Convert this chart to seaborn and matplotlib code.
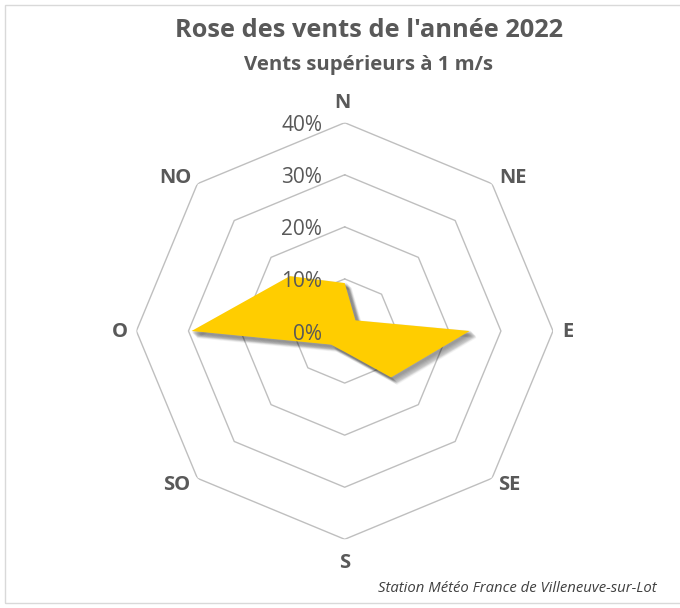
import numpy as np
import matplotlib
matplotlib.use("Agg")
import matplotlib.pyplot as plt
import matplotlib.transforms as mtransforms
from matplotlib.patches import Rectangle
import seaborn as sns
import pandas as pd

# ---- data ----
directions = ["N", "NE", "E", "SE", "S", "SO", "O", "NO"]
frequencies = [9.2, 2.9, 24.0, 12.6, 4.0, 3.7, 29.4, 14.9]   # % of winds > 1 m/s
ring_values = [10, 20, 30, 40]
tick_values = [0, 10, 20, 30, 40]
tick_labels = ["0%", "10%", "20%", "30%", "40%"]
title = "Rose des vents de l'année 2022"
subtitle = "Vents supérieurs à 1 m/s"
source = "Station Météo France de Villeneuve-sur-Lot"

sns.set_theme(style="white")
plt.rcParams["font.family"] = ["Open Sans", "DejaVu Sans"]

TXT = "#595959"
GRID = "#BFBFBF"
FILL = "#FFCD00"

W, H = 680, 608
fig = plt.figure(figsize=(W / 100, H / 100), dpi=100)

# chart frame
fig.patches.append(Rectangle((5 / W, 5 / H), 1.2, (603 - 5) / H, transform=fig.transFigure,
                             fill=False, edgecolor="#D9D9D9", linewidth=1.0, zorder=0))

cx, cy, R = 344.7, 331.0, 208.3
ax = fig.add_axes([(cx - R) / W, (H - cy - R) / H, 2 * R / W, 2 * R / H], projection="polar")
ax.set_theta_offset(np.pi / 2)
ax.set_theta_direction(-1)
ax.set_ylim(0, 40)
ax.grid(False)
ax.spines["polar"].set_visible(False)
ax.set_xticks([])
ax.set_yticks([])
ax.patch.set_alpha(0)

n = len(directions)
angles = np.arange(n) * 2 * np.pi / n
closed_angles = np.append(angles, angles[0])

# octagonal grid rings
for rv in ring_values:
    ring = pd.DataFrame({"theta": closed_angles, "r": [rv] * (n + 1)})
    sns.lineplot(data=ring, x="theta", y="r", sort=False, estimator=None, ax=ax,
                 color=GRID, linewidth=1.0, zorder=1)
ax.set_xlabel("")
ax.set_ylabel("")

# data polygon with soft shadow
vals = np.append(frequencies, frequencies[0])
for d in np.linspace(1.0, 6.0, 11):
    a = 0.035
    tr = mtransforms.offset_copy(ax.transData, fig=fig, x=d * 0.72, y=-d * 0.72, units="points")
    ax.fill(closed_angles, vals, color="black", alpha=a, linewidth=2.0,
            transform=tr, zorder=2)
ax.fill(closed_angles, vals, color=FILL, linewidth=0, zorder=3)

# radial tick labels
for tv, tl in zip(tick_values, tick_labels):
    ax.annotate(tl, xy=(0, tv), xytext=(-16.3, -2.2), textcoords="offset points",
                ha="right", va="center", fontsize=15, color=TXT, zorder=5,
                annotation_clip=False)

# direction labels
offsets_px = [(-2, 20), (20.7, 6), (14.5, -1), (17.6, -6.4), (0, -24), (-20.4, -6.4), (-17, -1), (-22.2, 5.7)]
for ang, lab, (ox, oy) in zip(angles, directions, offsets_px):
    ax.annotate(lab, xy=(ang, 40), xytext=(ox * 0.72, oy * 0.72), textcoords="offset points",
                ha="center", va="center", fontsize=14.5, fontweight="bold", color=TXT,
                annotation_clip=False)

fig.text(369 / W, 1 - 37.3 / H, title, ha="center", va="baseline", fontsize=18.3,
         fontweight="bold", color=TXT)
fig.text(368 / W, 1 - 70 / H, subtitle, ha="center", va="baseline", fontsize=14.7,
         fontweight="bold", color=TXT)
fig.text(378 / W, 1 - 588 / H, source, ha="left", va="center", fontsize=10.7,
         style="italic", color="#404040")

fig.savefig("out.png", dpi=100)
